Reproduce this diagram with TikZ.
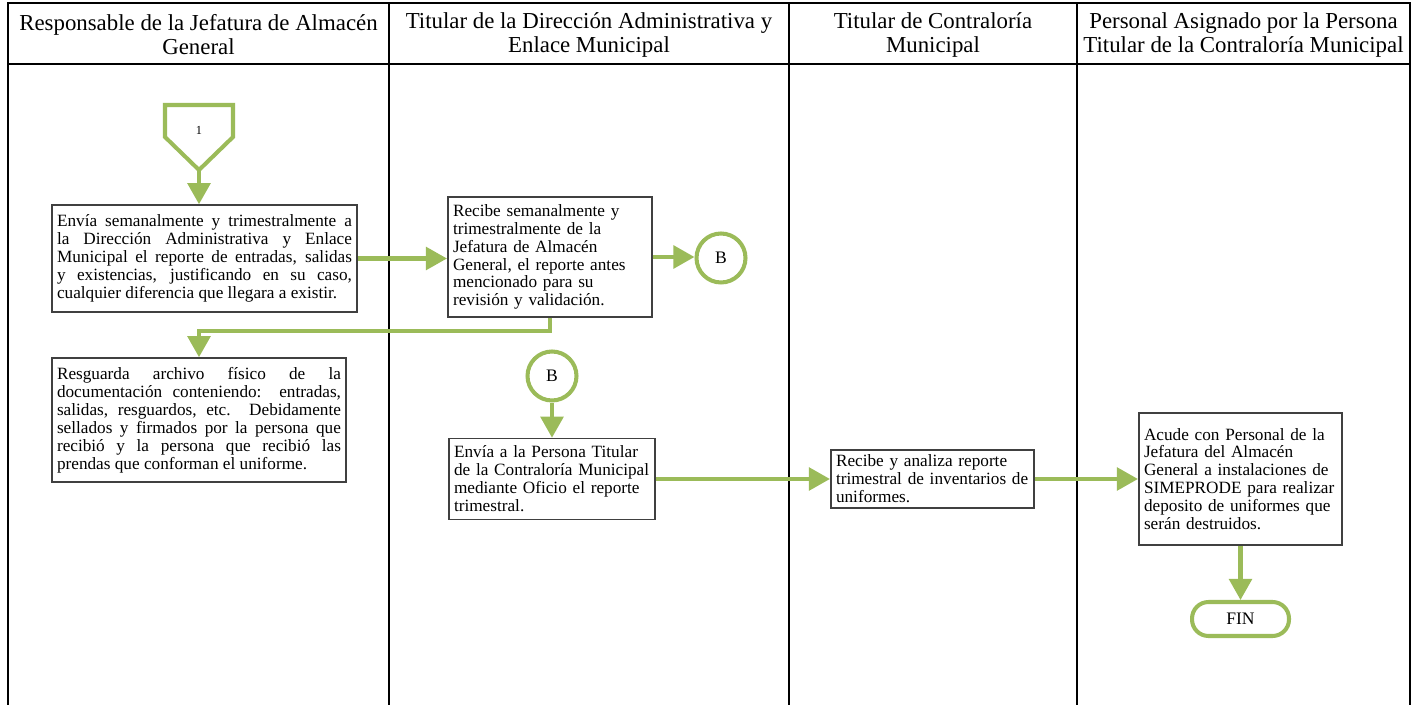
\documentclass[tikz,border=0pt]{standalone}
\usepackage{fontspec}
\setmainfont{Liberation Serif}
\usepackage{tikz}
\usetikzlibrary{arrows.meta,calc,positioning}
\usepackage{xcolor}
\definecolor{flowgreen}{HTML}{9BBB59}
\hyphenpenalty=10000

\begin{document}
\begin{tikzpicture}[x=0.02cm,y=-0.02cm,
	  every node/.style={inner sep=2pt},
	  lane/.style={draw=black,line width=1pt},
	  head/.style={align=center,font=\fontsize{13}{13.6}\selectfont},
	  task/.style={draw=black!75,line width=0.9pt,fill=white,inner sep=3pt,font=\fontsize{9.8}{10.2}\selectfont},
	  connector/.style={circle,draw=flowgreen,line width=2.3pt,minimum size=0.98cm,inner sep=0pt,font=\fontsize{10}{12}\selectfont},
	  ending/.style={draw=flowgreen,line width=2.3pt,rounded corners=0.33cm,minimum width=1.94cm,minimum height=0.68cm,font=\fontsize{10}{12}\selectfont},
	  offpage/.style={draw=flowgreen,line width=2.3pt,line join=miter},
	  flow/.style={-{Triangle[length=0.42cm,width=0.45cm]},draw=flowgreen,line width=2.3pt}]

	  \useasboundingbox (0,0) rectangle (1413,705);

	  % Lanes and their headers
	  \draw[lane] (8,705) -- (8,3) -- (1410,3) -- (1410,705);
	  \draw[lane] (8,64) -- (1410,64);
	  \foreach \x in {389,789,1077} \draw[lane] (\x,3) -- (\x,705);
	  \node[head] (almacen) at (198.5,35) {Responsable de la Jefatura de Almacén\\General};
	  \node[head] (direccion) at (589,35) {Titular de la Dirección Administrativa y\\Enlace Municipal};
	  \node[head] (contraloria) at (933,35) {Titular de Contraloría\\Municipal};
	  \node[head] (personal) at (1243.5,35) {Personal Asignado por la Persona\\Titular de la Contraloría Municipal};

	  % Off-page connector
	  \draw[offpage] (165,105) -- (233,105) -- (233,137) -- (199,170) -- (165,137) -- cycle;
	  \node[font=\fontsize{7}{8}\selectfont] (uno) at (199,130) {1};
	  \coordinate (unotip) at (199,170);

	  % Position the nodes at their coordinates
	  \node[task,text width=5.9cm,minimum height=2.14cm,align=justify] (envia) at (204.5,258.5)
	    {Envía semanalmente y trimestralmente a\linebreak la Dirección Administrativa y Enlace\linebreak Municipal el reporte de entradas, salidas\linebreak y existencias, justificando en su caso,\linebreak cualquier diferencia que llegara a existir.};
	  \node[task,text width=3.88cm,minimum height=2.4cm,align=left] (recibe) at (550,257)
	    {Recibe semanalmente y\\trimestralmente de la\\Jefatura de Almacén\\General, el reporte antes\\mencionado para su\\revisión y validación.};
	  \node[connector] (salidaB) at (721,258) {B};
	  \node[task,text width=5.68cm,minimum height=2.48cm,align=justify] (resguarda) at (199,420)
	    {Resguarda archivo físico de la\linebreak documentación conteniendo: entradas,\linebreak salidas, resguardos, etc. Debidamente\linebreak sellados y firmados por la persona que\linebreak recibió y la persona que recibió las\linebreak prendas que conforman el uniforme.};
	  \node[connector] (entradaB) at (552,376) {B};
	  \node[task,text width=3.92cm,minimum height=1.62cm,align=left] (oficio) at (552,479)
	    {Envía a la Persona Titular\\de la Contraloría Municipal\\mediante Oficio el reporte\\trimestral.};
	  \node[task,text width=3.86cm,minimum height=1.12cm,align=left] (analiza) at (932.5,479)
	    {Recibe y analiza reporte\\trimestral de inventarios de\\uniformes.};
	  \node[task,text width=3.86cm,minimum height=2.64cm,align=left] (acude) at (1240.5,479)
	    {Acude con Personal de la\\Jefatura del Almacén\\General a instalaciones de\\SIMEPRODE para realizar\\deposito de uniformes que\\serán destruidos.};
	  \node[ending] (fin) at (1240.5,619) {FIN};

	  % Connectors
	  \draw[flow] (unotip) -- (unotip |- envia.north);
	  \draw[flow] (envia.east) -- (recibe.west |- envia.east);
	  \draw[flow] (recibe.east) -- (salidaB.west |- recibe.east);
	  \draw[flow] (recibe.south) -- ++(0,13) -| (resguarda.north);
	  \draw[flow] (entradaB) -- (oficio.north);
	  \draw[flow] (oficio.east) -- (analiza.west);
	  \draw[flow] (analiza.east) -- (acude.west);
	  \draw[flow] (acude.south) -- (fin.north);

\end{tikzpicture}
\end{document}
